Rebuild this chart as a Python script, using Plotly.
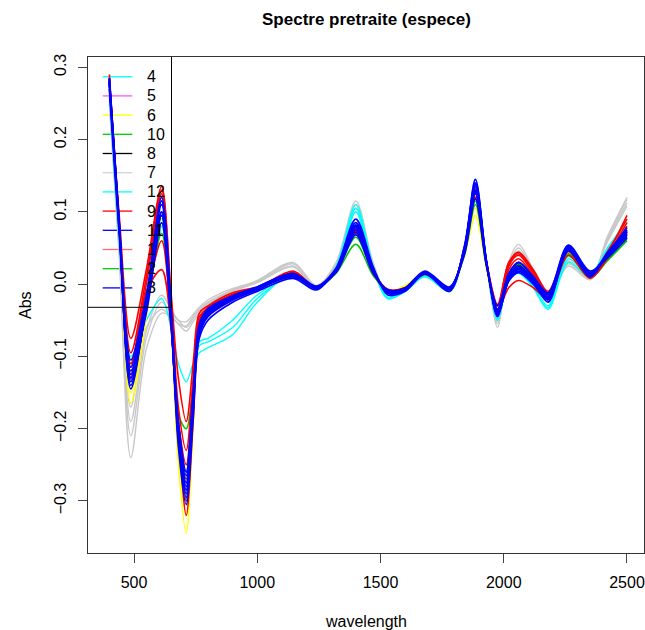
import plotly.graph_objects as go

wavelength = [400, 440, 487, 550, 612, 650, 680, 712, 740, 765, 800, 900, 1000, 1145, 1240, 1320,
              1400, 1470, 1530, 1600, 1680, 1780, 1840, 1885, 1930, 1975, 2020, 2060, 2120, 2180,
              2262, 2350, 2420, 2500]

# ---- spectra per species group ----
gray_spectra = [
    [0.250, 0.040, -0.240, -0.090, -0.040, -0.045, -0.055, -0.058, -0.045, -0.035, -0.025, -0.008, 0.005, 0.030, -0.002, 0.030, 0.115, 0.030, -0.015, -0.008, 0.015, -0.010, 0.050, 0.145, 0.030, -0.060, 0.030, 0.055, 0.020, -0.020, 0.025, 0.006, 0.065, 0.120],
    [0.255, 0.045, -0.210, -0.075, -0.025, -0.040, -0.050, -0.052, -0.042, -0.032, -0.022, -0.006, 0.004, 0.028, -0.003, 0.028, 0.110, 0.028, -0.013, -0.007, 0.014, -0.009, 0.048, 0.140, 0.028, -0.055, 0.025, 0.050, 0.018, -0.018, 0.028, 0.008, 0.062, 0.117],
    [0.260, 0.050, -0.190, -0.065, -0.015, -0.035, -0.050, -0.060, -0.048, -0.036, -0.026, -0.009, 0.003, 0.025, -0.004, 0.026, 0.105, 0.026, -0.012, -0.007, 0.013, -0.008, 0.045, 0.135, 0.027, -0.052, 0.022, 0.046, 0.015, -0.016, 0.030, 0.008, 0.060, 0.112],
    [0.262, 0.052, -0.170, -0.060, -0.035, -0.045, -0.055, -0.065, -0.052, -0.040, -0.028, -0.010, 0.002, 0.024, -0.004, 0.025, 0.100, 0.024, -0.012, -0.007, 0.012, -0.008, 0.044, 0.132, 0.026, -0.050, 0.020, 0.045, 0.014, -0.015, 0.032, 0.010, 0.058, 0.108],
]
cyan_spectra = [
    [0.270, 0.060, -0.100, -0.050, -0.020, -0.060, -0.110, -0.135, -0.110, -0.095, -0.088, -0.070, -0.025, 0.015, -0.005, 0.025, 0.110, 0.025, -0.020, -0.010, 0.012, -0.010, 0.045, 0.140, 0.025, -0.045, 0.010, 0.020, -0.005, -0.035, 0.030, 0.010, 0.048, 0.090],
    [0.278, 0.075, -0.130, -0.035, 0.080, -0.050, -0.210, -0.280, -0.170, -0.085, -0.080, -0.060, -0.020, 0.012, -0.006, 0.022, 0.105, 0.022, -0.020, -0.010, 0.010, -0.010, 0.048, 0.145, 0.028, -0.050, 0.005, 0.015, -0.005, -0.033, 0.035, 0.012, 0.050, 0.085],
    [0.280, 0.078, -0.135, -0.030, 0.090, -0.048, -0.220, -0.290, -0.175, -0.080, -0.075, -0.050, -0.015, 0.010, -0.005, 0.020, 0.100, 0.020, -0.018, -0.009, 0.011, -0.009, 0.046, 0.140, 0.027, -0.048, 0.006, 0.018, -0.002, -0.030, 0.038, 0.014, 0.048, 0.080],
]
yellow_spectra = [
    [0.280, 0.075, -0.165, -0.045, 0.090, -0.060, -0.250, -0.345, -0.200, -0.070, -0.045, -0.022, -0.008, 0.010, -0.005, 0.018, 0.070, 0.015, -0.010, -0.002, 0.015, -0.006, 0.038, 0.095, 0.020, -0.040, 0.010, 0.030, 0.010, -0.015, 0.040, 0.010, 0.035, 0.070],
    [0.278, 0.072, -0.150, -0.040, 0.085, -0.055, -0.235, -0.320, -0.190, -0.068, -0.043, -0.020, -0.007, 0.011, -0.005, 0.018, 0.072, 0.016, -0.010, -0.003, 0.015, -0.006, 0.040, 0.105, 0.022, -0.038, 0.012, 0.028, 0.010, -0.014, 0.040, 0.012, 0.036, 0.072],
]
magenta_spectra = [
    [0.280, 0.078, -0.132, -0.032, 0.095, -0.048, -0.205, -0.275, -0.165, -0.066, -0.042, -0.021, -0.007, 0.011, -0.005, 0.018, 0.076, 0.018, -0.010, -0.006, 0.015, -0.006, 0.046, 0.128, 0.028, -0.036, 0.012, 0.030, 0.006, -0.017, 0.048, 0.012, 0.038, 0.070],
    [0.283, 0.080, -0.128, -0.028, 0.100, -0.045, -0.215, -0.285, -0.170, -0.068, -0.044, -0.022, -0.008, 0.012, -0.005, 0.019, 0.079, 0.019, -0.011, -0.007, 0.015, -0.007, 0.047, 0.131, 0.029, -0.039, 0.010, 0.026, 0.004, -0.019, 0.049, 0.013, 0.039, 0.072],
]
black_spectra = [
    [0.282, 0.080, -0.125, -0.030, 0.095, -0.047, -0.200, -0.270, -0.160, -0.063, -0.040, -0.020, -0.006, 0.012, -0.004, 0.019, 0.074, 0.017, -0.010, -0.006, 0.015, -0.006, 0.045, 0.126, 0.027, -0.036, 0.011, 0.027, 0.006, -0.016, 0.049, 0.013, 0.037, 0.069],
]
green_spectra = [
    [0.280, 0.080, -0.120, -0.030, 0.085, -0.045, -0.190, -0.260, -0.155, -0.060, -0.038, -0.018, -0.005, 0.010, -0.005, 0.015, 0.055, 0.012, -0.010, -0.006, 0.013, -0.006, 0.040, 0.110, 0.025, -0.035, 0.008, 0.022, 0.005, -0.015, 0.040, 0.008, 0.032, 0.060],
    [0.282, 0.080, -0.110, -0.025, 0.070, -0.050, -0.210, -0.300, -0.170, -0.065, -0.040, -0.020, -0.006, 0.012, -0.004, 0.018, 0.065, 0.015, -0.010, -0.006, 0.016, -0.006, 0.045, 0.120, 0.028, -0.038, 0.012, 0.028, 0.008, -0.015, 0.045, 0.012, 0.036, 0.065],
    [0.278, 0.078, -0.130, -0.032, 0.095, -0.042, -0.180, -0.200, -0.140, -0.058, -0.037, -0.019, -0.006, 0.011, -0.005, 0.017, 0.070, 0.016, -0.010, -0.007, 0.015, -0.007, 0.044, 0.115, 0.027, -0.037, 0.010, 0.024, 0.006, -0.017, 0.042, 0.010, 0.034, 0.062],
]
red_spectra = [
    [0.290, 0.095, -0.075, 0.020, 0.135, -0.010, -0.130, -0.190, -0.110, -0.040, -0.030, -0.012, -0.004, 0.015, -0.005, 0.020, 0.075, 0.015, -0.008, -0.005, 0.015, -0.005, 0.045, 0.120, 0.030, -0.028, 0.030, 0.044, 0.020, -0.010, 0.045, 0.010, 0.040, 0.085],
    [0.285, 0.085, -0.110, 0.000, 0.125, -0.030, -0.200, -0.320, -0.190, -0.060, -0.035, -0.015, -0.006, 0.018, -0.004, 0.022, 0.080, 0.018, -0.009, -0.006, 0.017, -0.006, 0.050, 0.138, 0.030, -0.040, 0.025, 0.040, 0.015, -0.015, 0.050, 0.012, 0.045, 0.090],
    [0.280, 0.080, -0.125, -0.020, 0.060, -0.050, -0.190, -0.250, -0.150, -0.050, -0.032, -0.015, -0.005, 0.014, -0.005, 0.018, 0.072, 0.016, -0.008, -0.006, 0.014, -0.006, 0.046, 0.128, 0.026, -0.036, -0.005, 0.005, -0.005, -0.020, 0.040, 0.008, 0.035, 0.072],
    [0.285, 0.088, -0.095, 0.010, 0.130, -0.020, -0.170, -0.230, -0.130, -0.045, -0.033, -0.014, -0.005, 0.016, -0.004, 0.020, 0.078, 0.017, -0.007, -0.005, 0.016, -0.005, 0.048, 0.132, 0.031, -0.030, 0.028, 0.042, 0.018, -0.012, 0.047, 0.011, 0.042, 0.095],
    [0.280, 0.082, -0.115, -0.010, 0.020, -0.060, -0.200, -0.300, -0.175, -0.055, -0.036, -0.016, -0.006, 0.013, -0.005, 0.019, 0.070, 0.016, -0.008, -0.006, 0.015, -0.006, 0.044, 0.125, 0.027, -0.034, 0.020, 0.035, 0.012, -0.016, 0.046, 0.010, 0.038, 0.080],
]
blue_spectra = [
    [0.280, 0.080, -0.140, -0.030, 0.110, -0.045, -0.215, -0.295, -0.175, -0.070, -0.045, -0.022, -0.008, 0.012, -0.006, 0.020, 0.082, 0.020, -0.013, -0.008, 0.015, -0.008, 0.050, 0.135, 0.030, -0.040, 0.008, 0.022, 0.005, -0.020, 0.050, 0.012, 0.040, 0.072],
    [0.275, 0.075, -0.130, -0.035, 0.095, -0.050, -0.205, -0.280, -0.165, -0.065, -0.040, -0.020, -0.006, 0.010, -0.004, 0.018, 0.075, 0.018, -0.010, -0.006, 0.016, -0.006, 0.045, 0.125, 0.028, -0.035, 0.010, 0.025, 0.008, -0.015, 0.052, 0.015, 0.038, 0.068],
    [0.285, 0.085, -0.145, -0.028, 0.115, -0.040, -0.225, -0.305, -0.185, -0.075, -0.050, -0.025, -0.010, 0.008, -0.008, 0.022, 0.090, 0.024, -0.015, -0.010, 0.014, -0.010, 0.052, 0.140, 0.032, -0.045, 0.005, 0.018, 0.002, -0.025, 0.046, 0.010, 0.042, 0.078],
    [0.270, 0.070, -0.120, -0.040, 0.085, -0.055, -0.195, -0.265, -0.155, -0.062, -0.038, -0.018, -0.004, 0.014, -0.003, 0.016, 0.068, 0.015, -0.008, -0.005, 0.018, -0.004, 0.040, 0.118, 0.025, -0.030, 0.012, 0.030, 0.010, -0.012, 0.054, 0.018, 0.036, 0.064],
    [0.280, 0.078, -0.135, -0.032, 0.100, -0.048, -0.210, -0.290, -0.170, -0.068, -0.043, -0.021, -0.007, 0.011, -0.005, 0.019, 0.078, 0.019, -0.011, -0.007, 0.015, -0.007, 0.047, 0.130, 0.029, -0.038, 0.009, 0.024, 0.006, -0.018, 0.050, 0.013, 0.039, 0.070],
    [0.285, 0.082, -0.125, -0.025, 0.120, -0.035, -0.200, -0.275, -0.160, -0.060, -0.036, -0.017, -0.005, 0.013, -0.004, 0.021, 0.085, 0.022, -0.012, -0.008, 0.017, -0.006, 0.048, 0.145, 0.031, -0.042, 0.004, 0.016, 0.000, -0.022, 0.048, 0.011, 0.043, 0.075],
    [0.282, 0.085, -0.105, -0.015, 0.115, -0.030, -0.190, -0.260, -0.150, -0.055, -0.034, -0.016, -0.004, 0.015, -0.003, 0.021, 0.072, 0.018, -0.010, -0.006, 0.016, -0.005, 0.047, 0.128, 0.030, -0.036, 0.015, 0.030, 0.010, -0.014, 0.053, 0.016, 0.041, 0.066],
    [0.278, 0.080, -0.115, -0.020, 0.100, -0.040, -0.205, -0.285, -0.165, -0.064, -0.040, -0.019, -0.006, 0.012, -0.005, 0.019, 0.080, 0.020, -0.012, -0.007, 0.015, -0.007, 0.049, 0.138, 0.030, -0.043, 0.006, 0.020, 0.003, -0.021, 0.051, 0.014, 0.040, 0.074],
]

# Legend (R base-graphics style, top-left)
legend_labels = ["4", "5", "6", "10", "8", "7", "12", "9", "11", "1", "2", "3"]
legend_colors = ["#00FFFF", "#FF55FF", "#FFFF00", "#00CC00", "#000000", "#D3D3D3",
                 "#00FFFF", "#FF0000", "#0000FF", "#FF6A6A", "#00CC00", "#0000FF"]

title_text = "Spectre pretraite (espece)"
x_title = "wavelength"
y_title = "Abs"
x_ticks = [500, 1000, 1500, 2000, 2500]
y_ticks = [-0.3, -0.2, -0.1, 0.0, 0.1, 0.2, 0.3]

groups = [
    (gray_spectra, "#C8C8C8", 1.4),
    (cyan_spectra, "#00FFFF", 1.4),
    (yellow_spectra, "#FFFF00", 1.4),
    (magenta_spectra, "#FF00FF", 1.4),
    (black_spectra, "#000000", 1.2),
    (green_spectra, "#00C000", 1.5),
    (red_spectra, "#FF0000", 1.6),
    (blue_spectra, "#0000FF", 1.7),
]

fig = go.Figure()
for spectra, color, lw in groups:
    for s in spectra:
        fig.add_trace(go.Scatter(
            x=wavelength, y=s, mode="lines",
            line=dict(color=color, width=lw, shape="spline", smoothing=0.9),
            showlegend=False, hoverinfo="skip"))

W, H = 645, 630
L, R, T, B = 88, 1, 57, 77
pw, ph = W - L - R, H - T - B

def px(xp):
    return (xp - L) / pw

def py(yp):
    return (H - B - yp) / ph

shapes = []
annotations = []
for i, (lab, col) in enumerate(zip(legend_labels, legend_colors)):
    yy = py(76.7 + 19.2 * i)
    shapes.append(dict(type="line", xref="paper", yref="paper", x0=px(102.7), x1=px(132.3),
                       y0=yy, y1=yy, line=dict(color=col, width=1.3), layer="below"))
    annotations.append(dict(xref="paper", yref="paper", x=px(145), y=yy, text=lab,
                            showarrow=False, xanchor="left", yanchor="middle",
                            font=dict(size=16, color="black", family="Liberation Sans, Arial")))
# legend box edges (right and bottom)
shapes.append(dict(type="line", xref="paper", yref="paper", x0=px(171.5), x1=px(171.5),
                   y0=1, y1=py(307.3), line=dict(color="black", width=1)))
shapes.append(dict(type="line", xref="paper", yref="paper", x0=0, x1=px(171.5),
                   y0=py(307.3), y1=py(307.3), line=dict(color="black", width=1)))

annotations.append(dict(xref="paper", yref="paper", x=px(366), y=py(20), text="<b>" + title_text + "</b>",
                        showarrow=False, xanchor="center", yanchor="middle",
                        font=dict(size=17, color="black", family="Liberation Sans, Arial")))
annotations.append(dict(xref="paper", yref="paper", x=px(366), y=py(621), text=x_title,
                        showarrow=False, xanchor="center", yanchor="middle",
                        font=dict(size=16, color="black", family="Liberation Sans, Arial")))
annotations.append(dict(xref="paper", yref="paper", x=px(25), y=py(305), text=y_title, textangle=-90,
                        showarrow=False, xanchor="center", yanchor="middle",
                        font=dict(size=16, color="black", family="Liberation Sans, Arial")))

fig.update_layout(
    width=W, height=H,
    margin=dict(l=L, r=R, t=T, b=B),
    paper_bgcolor="white", plot_bgcolor="white",
    shapes=shapes, annotations=annotations,
    font=dict(family="Liberation Sans, Arial", size=16, color="black"),
)
fig.update_xaxes(range=[313.4, 2569], tickvals=x_ticks, ticks="outside", ticklen=9,
                 tickcolor="#444", showgrid=False, zeroline=False, showline=True, mirror=True,
                 linecolor="#333", linewidth=1, tickfont=dict(size=16), ticklabelstandoff=6)
fig.update_yaxes(range=[-0.372, 0.3142], tickvals=y_ticks, tickformat=".1f", ticks="outside", ticklen=9,
                 tickcolor="#444", showgrid=False, zeroline=False, showline=True, mirror=True,
                 linecolor="#333", linewidth=1, tickangle=-90, tickfont=dict(size=16),
                 ticklabelstandoff=6)

fig.write_html("out.html")
